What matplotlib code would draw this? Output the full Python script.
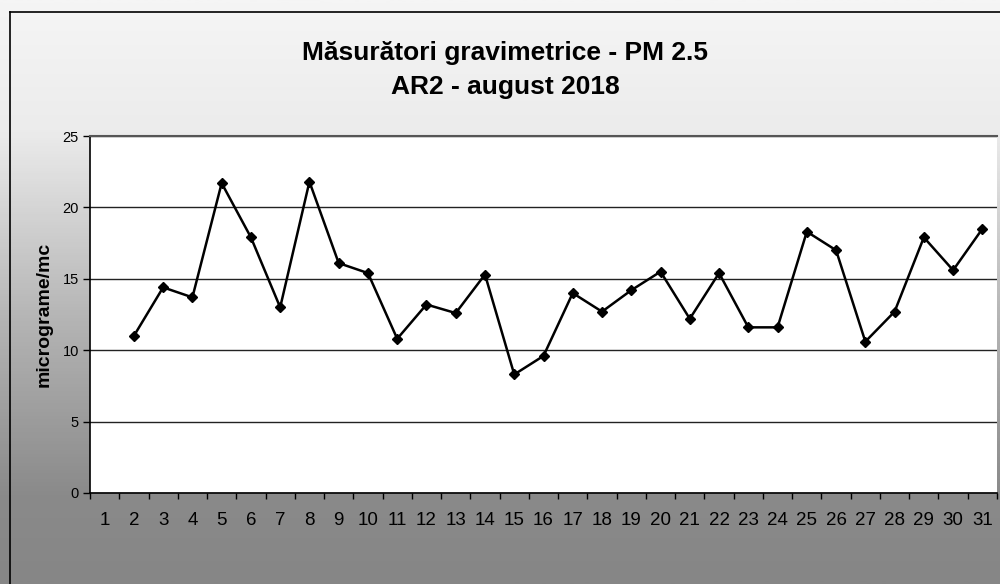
import numpy as np
import matplotlib.pyplot as plt
from matplotlib.lines import Line2D
from matplotlib.colors import LinearSegmentedColormap

plt.rcParams['font.family'] = ['Liberation Sans', 'DejaVu Sans']

zile = list(range(1, 32))
pm25 = [np.nan, 11.0, 14.4, 13.7, 21.7, 17.9, 13.0, 21.8, 16.1, 15.4,
        10.8, 13.2, 12.6, 15.3, 8.3, 9.6, 14.0, 12.7, 14.2, 15.5,
        12.2, 15.4, 11.6, 11.6, 18.3, 17.0, 10.6, 12.7, 17.9, 15.6, 18.5]
titlu = 'Măsurători gravimetrice - PM 2.5\nAR2 - august 2018'
eticheta_y = 'micrograme/mc'

fig = plt.figure(figsize=(10, 5.84), dpi=100)

# fundal cu degrade (scanare gri)
bg = fig.add_axes([0, 0, 1, 1], zorder=0)
cm = LinearSegmentedColormap.from_list('scan', [(0.0, '#f5f5f5'), (0.22, '#ececec'),
                                                (0.55, '#b4b4b4'), (0.85, '#8a8a8a'),
                                                (1.0, '#868686')])
grad = np.linspace(0, 1, 300).reshape(-1, 1)
bg.imshow(grad, aspect='auto', cmap=cm, extent=[0, 1, 0, 1], origin='upper')
bg.set_xlim(0, 1)
bg.set_ylim(0, 1)
bg.axis('off')

# chenar exterior
fig.add_artist(Line2D([0.010, 0.010], [0, 1 - 12 / 584], color='black', lw=1.2,
                      transform=fig.transFigure))
fig.add_artist(Line2D([0.010, 1.0], [1 - 12 / 584, 1 - 12 / 584], color='black', lw=1.2,
                      transform=fig.transFigure))

ax = fig.add_axes([0.090, 1 - 493 / 584, 0.907, (493 - 136) / 584], zorder=2)
ax.set_facecolor('white')

ax.plot(zile, pm25, color='black', lw=1.8, marker='D', markersize=5.5,
        markerfacecolor='black', markeredgecolor='black', zorder=3)

ax.set_xlim(0.5, 31.5)
ax.set_ylim(0, 25)
ax.set_yticks([0, 5, 10, 15, 20, 25])
ax.yaxis.grid(True, color='#222222', lw=1.0)
ax.set_axisbelow(True)

ax.set_xticks(np.arange(0.5, 32, 1))
ax.set_xticklabels([])
ax.set_xticks(zile, minor=True)
ax.set_xticklabels([str(z) for z in zile], minor=True, fontsize=13.5)
ax.tick_params(axis='x', which='major', direction='out', length=4, width=1)
ax.tick_params(axis='x', which='minor', length=0, pad=14)
ax.tick_params(axis='y', direction='out', length=5, width=1, labelsize=10.5, pad=3)

for s in ['left', 'bottom']:
    ax.spines[s].set_color('black')
    ax.spines[s].set_linewidth(1.2)
ax.spines['top'].set_color('#555555')
ax.spines['top'].set_linewidth(1.5)
ax.spines['right'].set_visible(False)

ax.set_ylabel(eticheta_y, fontsize=14, fontweight='bold', labelpad=7)

fig.text(0.505, 1 - 70 / 584, titlu, ha='center', va='center', fontsize=19,
         fontweight='bold', linespacing=1.55)

fig.savefig('out.png', dpi=100)
